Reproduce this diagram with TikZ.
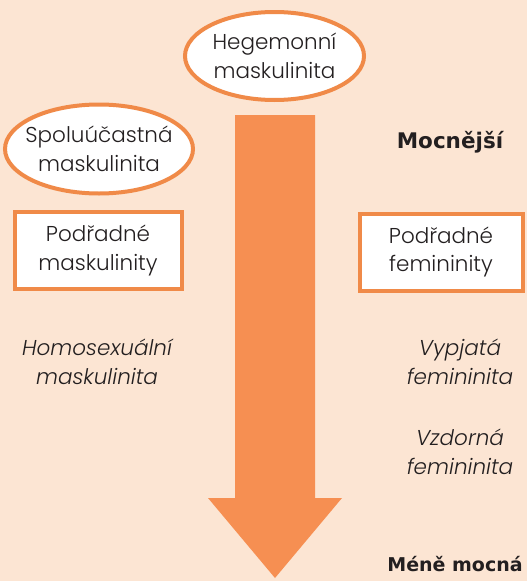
\documentclass[tikz,border=0pt]{standalone}
\usepackage{fontspec}
\IfFontExistsTF{Poppins Light}{\setmainfont{Poppins Light}[ItalicFont={Poppins Light Italic}]}{\setmainfont{Poppins}}
\newfontfamily\boldsans{DejaVu Sans}
\usetikzlibrary{shapes.geometric}
\definecolor{bgpeach}{HTML}{FCE5D3}
\definecolor{orangeline}{HTML}{F08A48}
\definecolor{arrowfill}{HTML}{F68F52}
\definecolor{inkc}{HTML}{231F20}
\begin{document}
\begin{tikzpicture}[x=1pt,y=-1pt,
  lbl/.style={font=\fontsize{21.5}{28.5}\selectfont, text=inkc, align=center, inner sep=0pt},
  oval/.style={lbl, ellipse, draw=orangeline, line width=4pt, fill=white, inner xsep=-12pt, inner ysep=-6pt},
  boxed/.style={lbl, rectangle, draw=orangeline, line width=4pt, fill=white},
  itl/.style={lbl, font=\fontsize{21.5}{28.5}\selectfont\itshape},
  strong/.style={font=\boldsans\bfseries\fontsize{21.5}{24}\selectfont, text=inkc, inner sep=0pt}
]
\useasboundingbox (0,0) rectangle (527,581);
\fill[bgpeach] (0,0) rectangle (527,581);
% arrow
\fill[arrowfill] (235,115) -- (315,115) -- (315,498) -- (342,498) -- (275,578) -- (208,498) -- (235,498) -- cycle;
\node[oval, minimum width=179pt, minimum height=88pt] (heg) at (274.5,56) {Hegemonní\\maskulinita};
\node[oval, minimum width=188pt, minimum height=89pt] (spol) at (99,149) {Spoluúčastná\\maskulinita};
\node[boxed, minimum width=167pt, minimum height=77pt] (podm) at (98,250.5) {Podřadné\\maskulinity};
\node[boxed, minimum width=163pt, minimum height=77pt] (podf) at (441,252) {Podřadné\\femininity};
\node[itl] (homo) at (97,362) {Homosexuální\\maskulinita};
\node[itl] (vypj) at (460,362) {Vypjatá\\femininita};
\node[itl] (vzdo) at (460,452) {Vzdorná\\femininita};
\node[strong] (moc) at (450,142) {Mocnější};
\node[strong, font=\boldsans\bfseries\fontsize{19}{24}\selectfont] (mene) at (455,564) {Méně mocná};
\end{tikzpicture}
\end{document}
